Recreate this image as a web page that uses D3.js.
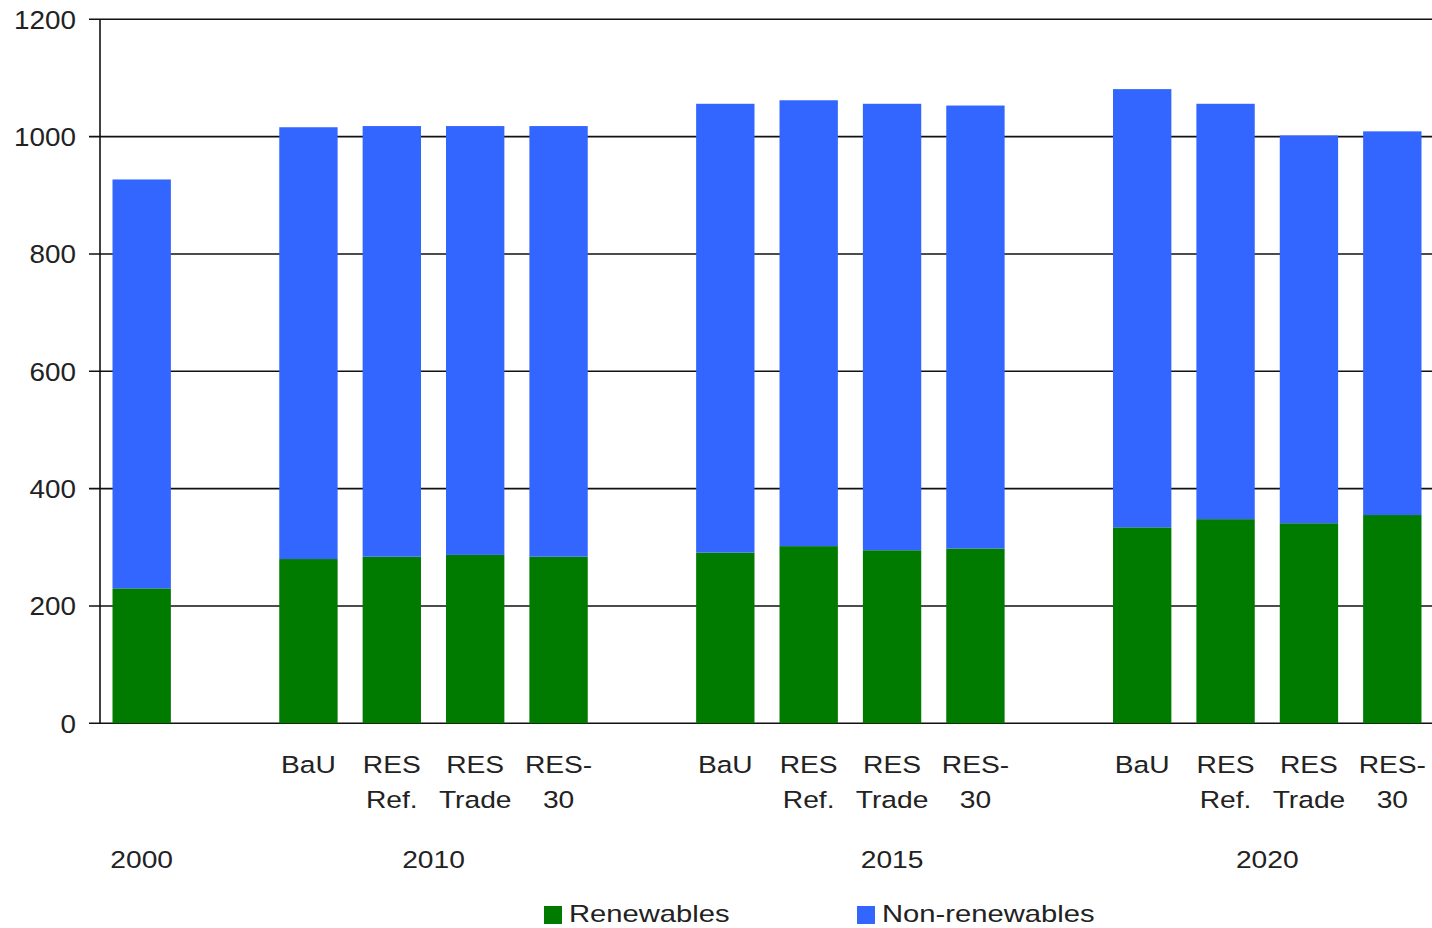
<!DOCTYPE html>
<html>
<head>
<meta charset="utf-8">
<script src="https://cdn.jsdelivr.net/npm/d3@7"></script>
<style>
  html, body { margin: 0; padding: 0; background: #fff; }
  svg { display: block; font-family: "Liberation Sans", Arial, sans-serif; }
</style>
</head>
<body>
<svg id="chart" width="1432" height="928"></svg>
<script>
// Slots along the category axis (empty slots separate the year groups)
const categories = ["c0", "c1", "c2", "c3", "c4", "c5", "c6", "c7", "c8", "c9", "c10", "c11", "c12", "c13", "c14", "c15"];
const categoryYear = ["2000", "", "2010", "2010", "2010", "2010", "", "2015", "2015", "2015", "2015", "2015", "2020", "2020", "2020", "2020"];
const categoryScenario = ["", "", "BaU", "RES\nRef.", "RES\nTrade", "RES-\n30", "", "BaU", "RES\nRef.", "RES\nTrade", "RES-\n30", "", "BaU", "RES\nRef.", "RES\nTrade", "RES-\n30"];

// Series values (null = empty slot)
const renewables    = [230, null, 280, 284, 287, 284, null, 291, 302, 295, 298, null, 334, 348, 341, 355];
const nonRenewables = [697, null, 736, 734, 731, 734, null, 765, 760, 761, 755, null, 747, 708, 661, 654];

const seriesNames = ["Renewables", "Non-renewables"];
const seriesColors = ["#007b00", "#3366ff"];

const yTicks = [0, 200, 400, 600, 800, 1000, 1200];

const svg = d3.select("#chart");
const W = 1432, H = 928;
svg.append("rect").attr("width", W).attr("height", H).attr("fill", "#fff");

const plot = { left: 100, right: 1434, top: 19.3, bottom: 723.3 };

const x = d3.scaleBand()
  .domain(categories)
  .range([plot.left, plot.right])
  .paddingInner(0.3)
  .paddingOuter(0.15);

const y = d3.scaleLinear()
  .domain([0, 1200])
  .range([plot.bottom, plot.top]);

// Horizontal gridlines with short outer ticks
const grid = svg.append("g");
grid.selectAll("line")
  .data(yTicks)
  .join("line")
  .attr("x1", plot.left - 11)
  .attr("x2", W)
  .attr("y1", d => y(d))
  .attr("y2", d => y(d))
  .attr("stroke", "#111")
  .attr("stroke-width", 1.6);

// Value axis labels
svg.append("g").selectAll("text")
  .data(yTicks)
  .join("text")
  .attr("transform", d => `translate(76,${y(d) + 9.5}) scale(1.05,1)`)
  .attr("text-anchor", "end")
  .attr("font-size", 26.5)
  .attr("fill", "#222")
  .text(d => d);

// Stacked bars
const rows = categories.map((c, i) => ({ cat: c, Renewables: renewables[i] || 0, "Non-renewables": nonRenewables[i] || 0, empty: renewables[i] == null }));
const stacked = d3.stack().keys(seriesNames)(rows.filter(r => !r.empty));

svg.append("g").selectAll("g")
  .data(stacked)
  .join("g")
  .attr("fill", (d, i) => seriesColors[i])
  .selectAll("rect")
  .data(d => d)
  .join("rect")
  .attr("x", d => x(d.data.cat))
  .attr("width", x.bandwidth())
  .attr("y", d => y(d[1]))
  .attr("height", d => y(d[0]) - y(d[1]));

// Vertical axis line
svg.append("line")
  .attr("x1", plot.left).attr("x2", plot.left)
  .attr("y1", plot.top).attr("y2", plot.bottom)
  .attr("stroke", "#111").attr("stroke-width", 1.6);

// Scenario labels (two lines)
const scenG = svg.append("g").attr("font-size", 23.5).attr("fill", "#222");
categories.forEach((c, i) => {
  const lines = categoryScenario[i] ? categoryScenario[i].split("\n") : [];
  lines.forEach((t, k) => {
    scenG.append("text")
      .attr("transform", `translate(${x(c) + x.bandwidth() / 2},${773.3 + k * 35}) scale(1.2,1)`)
      .attr("text-anchor", "middle")
      .text(t);
  });
});

// Year labels centred under their slot span
const yearNames = Array.from(new Set(categoryYear.filter(d => d)));
const yearG = svg.append("g").attr("font-size", 23.5).attr("fill", "#222");
yearNames.forEach(yr => {
  const idx = categoryYear.map((d, i) => d === yr ? i : -1).filter(i => i >= 0);
  const cx = (x(categories[idx[0]]) + x(categories[idx[idx.length - 1]]) + x.bandwidth()) / 2;
  yearG.append("text")
    .attr("transform", `translate(${cx},868.3) scale(1.2,1)`)
    .attr("text-anchor", "middle")
    .text(yr);
});

// Legend
const legendX = [544, 857];
const leg = svg.append("g");
seriesNames.forEach((name, i) => {
  leg.append("rect")
    .attr("x", legendX[i]).attr("y", 906)
    .attr("width", 18).attr("height", 18)
    .attr("fill", seriesColors[i]);
  leg.append("text")
    .attr("transform", `translate(${legendX[i] + 25},922) scale(1.27,1)`)
    .attr("font-size", 23)
    .attr("fill", "#222")
    .text(name);
});
</script>
</body>
</html>
